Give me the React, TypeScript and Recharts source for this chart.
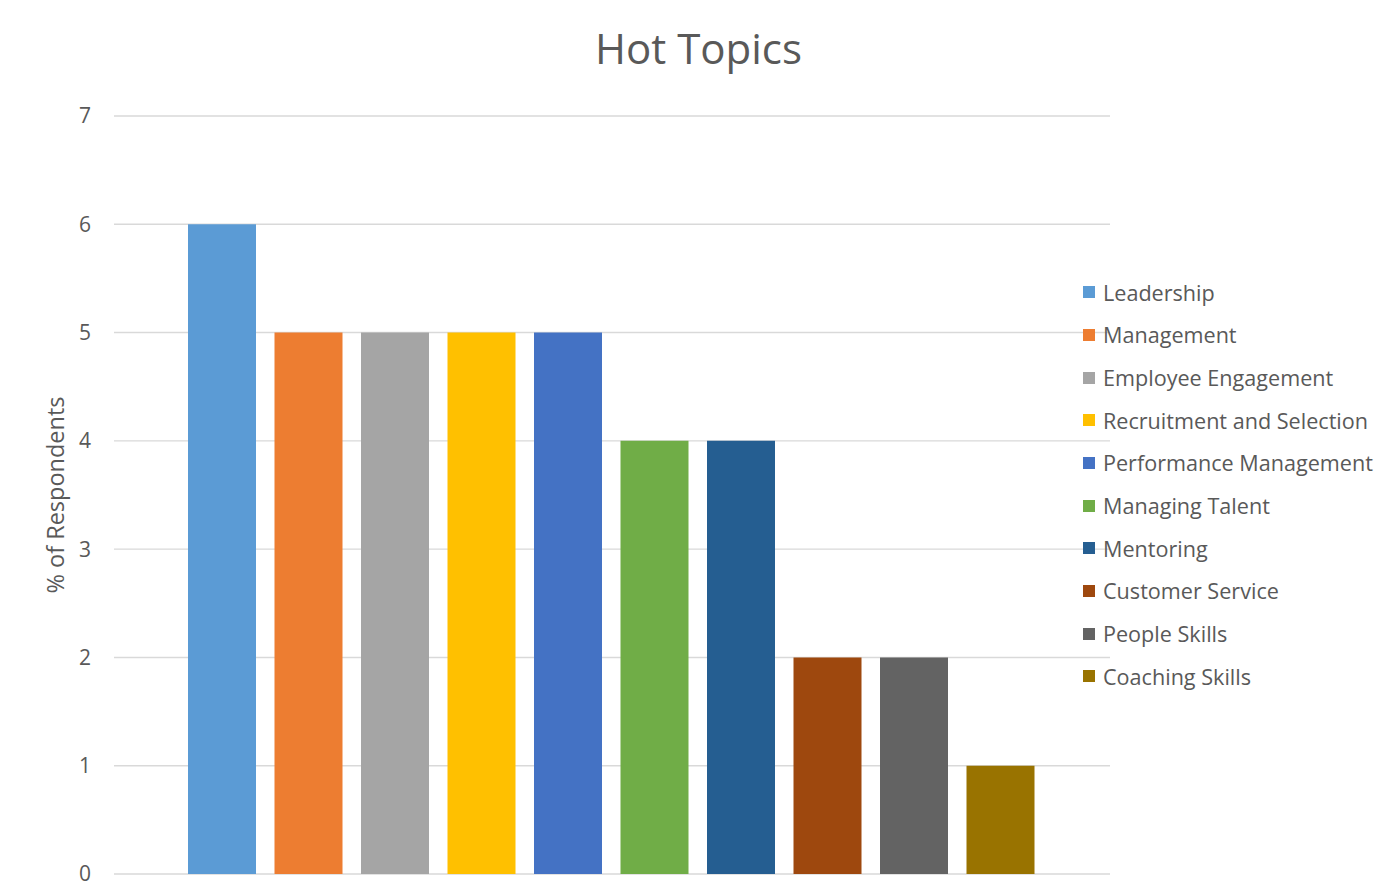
import React from "react";
import { BarChart, Bar, XAxis, YAxis, CartesianGrid, Legend } from "recharts";

const topics = [
  "Leadership",
  "Management",
  "Employee Engagement",
  "Recruitment and Selection",
  "Performance Management",
  "Managing Talent",
  "Mentoring",
  "Customer Service",
  "People Skills",
  "Coaching Skills",
];
const percentages = [6, 5, 5, 5, 5, 4, 4, 2, 2, 1];
const colors = [
  "#5B9BD5",
  "#ED7D31",
  "#A5A5A5",
  "#FFC000",
  "#4472C4",
  "#70AD47",
  "#255E91",
  "#9E480E",
  "#636363",
  "#997300",
];
const yTicks = [0, 1, 2, 3, 4, 5, 6, 7];

const row: Record<string, any> = { name: "Hot Topics" };
topics.forEach((t, i) => {
  row[t] = percentages[i];
});
const data = [row];

const FONT = "'Open Sans', 'Noto Sans', sans-serif";
const TEXT = "#595959";

function TopicLegend({ payload }: any) {
  if (!payload?.length) return null;
  // keep the series order instead of the alphabetical default
  const items = [...payload].sort((a: any, b: any) => topics.indexOf(a.value) - topics.indexOf(b.value));
  return (
    <div style={{ fontFamily: FONT }}>
      {items.map((p: any) => (
        <div key={p.value} style={{ display: "flex", alignItems: "center", height: 42.67 }}>
          <span style={{ width: 12, height: 12, background: p.color, marginRight: 8, flexShrink: 0 }} />
          <span style={{ fontSize: 21.6, color: TEXT, whiteSpace: "nowrap" }}>{p.value}</span>
        </div>
      ))}
    </div>
  );
}

function AxisTitle({ viewBox }: any) {
  const cy = viewBox.y + viewBox.height / 2;
  const cx = 55;
  return (
    <text
      x={cx}
      y={cy}
      transform={`rotate(-90 ${cx} ${cy})`}
      textAnchor="middle"
      dominantBaseline="central"
      fill={TEXT}
      fontSize={23.5}
      fontFamily={FONT}
    >
      % of Respondents
    </text>
  );
}

export default function App() {
  return (
    <div style={{ position: "absolute", left: 0, top: 0, width: 1397, height: 889, background: "#fff" }}>
      <div
        style={{
          position: "absolute",
          top: 19,
          left: 0,
          width: 1397,
          textAlign: "center",
          fontFamily: FONT,
          fontSize: 42,
          color: TEXT,
          lineHeight: "58px",
        }}
      >
        Hot Topics
      </div>
      <BarChart
        width={1397}
        height={889}
        data={data}
        margin={{ top: 116, right: 287, bottom: 15, left: 54 }}
        barCategoryGap={74}
        barGap={18.5}
      >
        <CartesianGrid horizontal vertical={false} stroke="#D9D9D9" strokeWidth={1.4} />
        <XAxis dataKey="name" hide />
        <YAxis
          width={60}
          domain={[0, 7]}
          ticks={yTicks}
          axisLine={false}
          tickLine={false}
          tickMargin={17}
          tick={{ fontSize: 21, fill: TEXT, fontFamily: FONT }}
          label={<AxisTitle />}
        />
        <Legend
          layout="horizontal"
          verticalAlign="middle"
          align="center"
          content={<TopicLegend />}
          wrapperStyle={{ position: "absolute", left: 1083, top: 271, width: 314 }}
        />
        {topics.map((t, i) => (
          <Bar key={t} dataKey={t} fill={colors[i]} isAnimationActive={false} />
        ))}
      </BarChart>
    </div>
  );
}
